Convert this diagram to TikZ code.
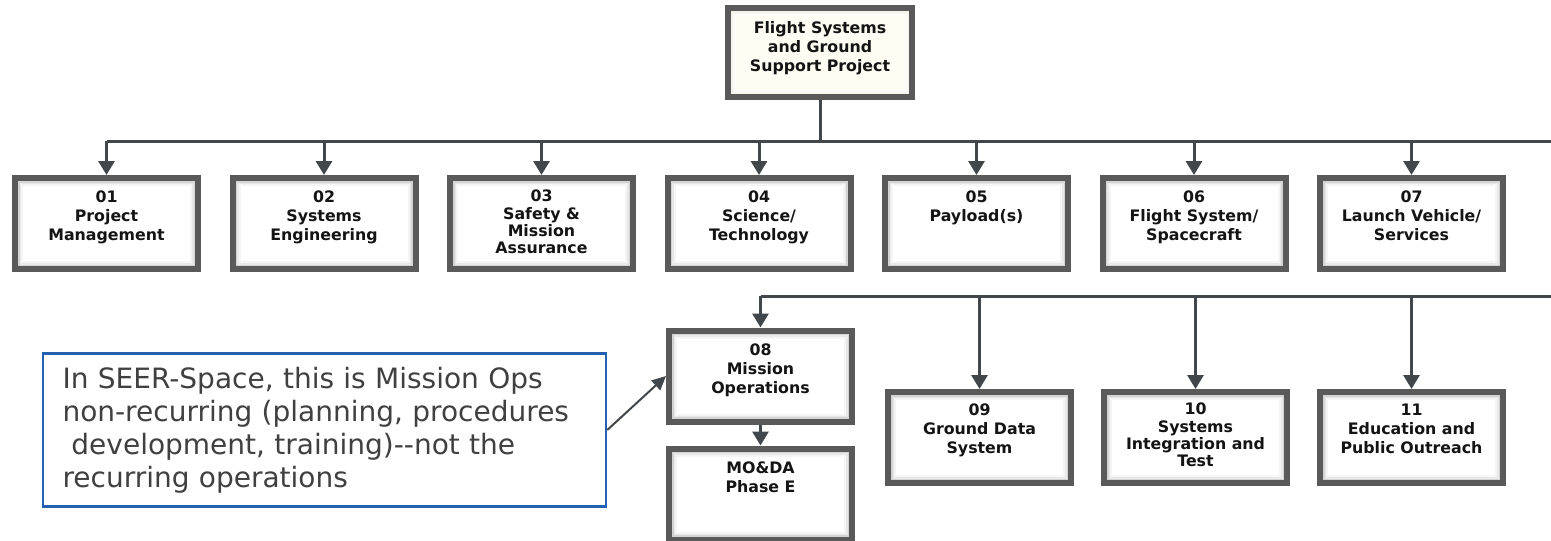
\documentclass[tikz,border=0pt]{standalone}
\usepackage{fontspec}
\setmainfont{DejaVu Sans}
\usetikzlibrary{arrows.meta}
\definecolor{boxborder}{HTML}{5A5A5A}
\definecolor{conn}{HTML}{42474C}
\definecolor{callblue}{HTML}{2461B0}
\definecolor{calltext}{HTML}{404040}
\definecolor{creamfill}{HTML}{FFFDF3}
\definecolor{tanglow}{HTML}{C9B896}
\begin{document}
\begin{tikzpicture}[x=1pt,y=-1pt,
  glow/.style={path picture={
     \draw[line width=16pt,#1!4] (path picture bounding box.south west) rectangle (path picture bounding box.north east);
     \draw[line width=12pt,#1!9] (path picture bounding box.south west) rectangle (path picture bounding box.north east);
     \draw[line width=9pt,#1!17] (path picture bounding box.south west) rectangle (path picture bounding box.north east);}},
  wbsbox/.style={draw=boxborder, line width=6pt, fill=white, minimum width=183pt,
     minimum height=91pt, inner sep=0pt, glow=black},
  topbox/.style={wbsbox, fill=creamfill, minimum width=184pt, minimum height=89pt, glow=tanglow},
  boxtext/.style={font=\bfseries\fontsize{15.8}{19}\selectfont, align=center,
     anchor=north, inner sep=0pt, text=black!92},
  boxtextfour/.style={boxtext, font=\bfseries\fontsize{15.8}{17.3}\selectfont},
  bus/.style={draw=conn, line width=3pt},
  arr/.style={draw=conn, line width=3pt, -{Triangle[width=16pt,length=14pt]}},
  notearr/.style={draw=conn, line width=2pt, -{Triangle[width=13pt,length=14pt]}},
  callout/.style={draw=callblue, line width=2.5pt, fill=white, minimum width=563pt,
     minimum height=153pt, text width=524pt, inner xsep=19.5pt, inner ysep=0pt,
     align=left, text=calltext, font=\fontsize{28}{33}\selectfont}
]
\useasboundingbox (0,0) rectangle (1551,541);

% top node
\node[topbox] (top) at (820,52.5) {};
\node[boxtext] (ttop) at ([yshift=-16pt]top.north) {Flight Systems\\and Ground\\Support Project};

% level 1
\node[wbsbox] (b01) at (106.5,223.5) {};
\node[wbsbox] (b02) at (324,223.5) {};
\node[wbsbox] (b03) at (541.5,223.5) {};
\node[wbsbox] (b04) at (759,223.5) {};
\node[wbsbox] (b05) at (976.5,223.5) {};
\node[wbsbox] (b06) at (1194,223.5) {};
\node[wbsbox] (b07) at (1411.5,223.5) {};

\node[boxtext] (t01) at ([yshift=-16pt]b01.north) {01\\Project\\Management};
\node[boxtext] (t02) at ([yshift=-16pt]b02.north) {02\\Systems\\Engineering};
\node[boxtextfour] (t03) at ([yshift=-15pt]b03.north) {03\\Safety \&\\Mission\\Assurance};
\node[boxtext] (t04) at ([yshift=-16pt]b04.north) {04\\Science/\\Technology};
\node[boxtext] (t05) at ([yshift=-16pt]b05.north) {05\\Payload(s)};
\node[boxtext] (t06) at ([yshift=-16pt]b06.north) {06\\Flight System/\\Spacecraft};
\node[boxtext] (t07) at ([yshift=-16pt]b07.north) {07\\Launch Vehicle/\\Services};

% level 2
\node[wbsbox] (b08) at (760.5,376) {};
\node[wbsbox] (mo) at (760.5,494) {};
\node[wbsbox] (b09) at (979.5,437.5) {};
\node[wbsbox] (b10) at (1195.5,437.5) {};
\node[wbsbox] (b11) at (1411.5,437.5) {};

\node[boxtext] (t08) at ([yshift=-16pt]b08.north) {08\\Mission\\Operations};
\node[boxtext] (tmo) at ([yshift=-16pt]mo.north) {MO\&DA\\Phase E};
\node[boxtext] (t09) at ([yshift=-15pt]b09.north) {09\\Ground Data\\System};
\node[boxtextfour] (t10) at ([yshift=-14pt]b10.north) {10\\Systems\\Integration and\\Test};
\node[boxtext] (t11) at ([yshift=-15pt]b11.north) {11\\Education and\\Public Outreach};

% bus coordinates
\coordinate (busA) at (1551,141);
\coordinate (busB) at (1551,296);

% level 1 connectors
\draw[bus] (top.south) -- (top.south |- busA);
\draw[bus] (b01.north |- busA) -- (busA);
\foreach \n in {b01,b02,b03,b04,b05,b06,b07}
  \draw[arr] (\n.north |- busA) -- (\n.north);

% level 2 connectors
\draw[bus] (b08.north |- busB) -- (busB);
\foreach \n in {b08,b09,b10,b11}
  \draw[arr] (\n.north |- busB) -- (\n.north);
\draw[arr] (b08.south) -- (mo.north);

% callout
\node[callout] (note) at (324.5,430) {In SEER-Space, this is Mission Ops\\non-recurring (planning, procedures\\\hspace*{0.32em}development, training)-{}-not the\\recurring operations};
\draw[notearr] (note.east) -- (b08.west);
\end{tikzpicture}
\end{document}
